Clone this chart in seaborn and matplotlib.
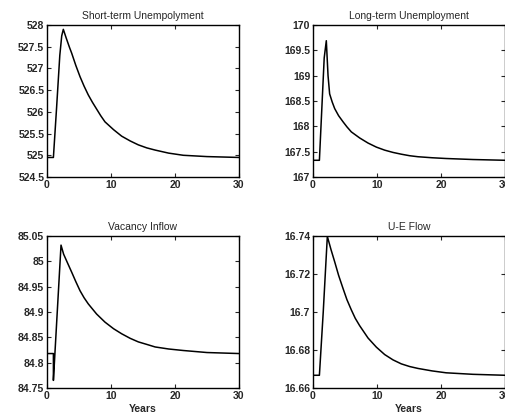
import numpy as np
import pandas as pd
import seaborn as sns
import matplotlib
matplotlib.use("Agg")
import matplotlib.pyplot as plt
from matplotlib.ticker import FixedLocator, FuncFormatter

# ---- data ----
st_years = [0, 1.0, 1.5, 2.0, 2.3, 2.55, 3.0, 3.5, 3.86, 4.5, 5.16, 5.8, 6.45, 7.1,
            7.77, 8.4, 9.06, 10.4, 11.67, 13.0, 14.27, 15.6, 16.9, 19.0, 21.3,
            25.0, 30.0]
st_values = [524.95, 524.95, 526.1, 527.3, 527.75, 527.90, 527.70, 527.49, 527.35,
             527.07, 526.81, 526.59, 526.39, 526.22, 526.06, 525.91, 525.77, 525.59,
             525.44, 525.33, 525.24, 525.17, 525.12, 525.05, 525.00, 524.97, 524.95]

lt_years = [0, 1.0, 1.75, 2.08, 2.35, 2.6, 3.0, 3.39, 4.0, 4.69, 5.3, 5.99, 7.3,
            8.6, 9.9, 11.2, 12.5, 13.8, 15.1, 16.4, 18.6, 20.8, 25.0, 30.0]
lt_values = [167.33, 167.33, 169.35, 169.69, 169.0, 168.64, 168.48, 168.35, 168.21,
             168.09, 167.99, 167.89, 167.77, 167.67, 167.59, 167.53, 167.485, 167.45,
             167.42, 167.40, 167.38, 167.365, 167.345, 167.33]

vi_years = [0, 1.0, 1.0, 2.19, 2.6, 3.2, 3.86, 4.5, 5.16, 5.8, 6.45, 7.75, 9.06,
            10.4, 11.67, 13.0, 14.27, 15.6, 16.9, 19.0, 21.3, 25.0, 30.0]
vi_values = [84.818, 84.818, 84.765, 85.032, 85.014, 84.997, 84.9785, 84.960, 84.942,
             84.928, 84.916, 84.896, 84.880, 84.867, 84.857, 84.848, 84.841, 84.836,
             84.831, 84.827, 84.824, 84.820, 84.818]

ue_years = [0, 1.0, 1.6, 2.0, 2.24, 2.8, 3.39, 4.0, 4.69, 5.3, 5.99, 6.6, 7.29,
            8.6, 9.9, 11.2, 12.5, 13.8, 15.1, 16.4, 18.6, 20.8, 25.0, 30.0]
ue_values = [16.6667, 16.6667, 16.700, 16.725, 16.7398, 16.7330, 16.7264, 16.7193,
             16.7124, 16.7065, 16.7011, 16.6967, 16.6928, 16.6863, 16.6815, 16.6776,
             16.6748, 16.6727, 16.6713, 16.6703, 16.6690, 16.6680, 16.6672, 16.6667]

titles = ["Short-term Unempolyment", "Long-term Unemployment", "Vacancy Inflow", "U-E Flow"]
x_ticks = [0, 10, 20, 30]
y_ticks = [
    [524.5, 525, 525.5, 526, 526.5, 527, 527.5, 528],
    [167, 167.5, 168, 168.5, 169, 169.5, 170],
    [84.75, 84.8, 84.85, 84.9, 84.95, 85, 85.05],
    [16.66, 16.68, 16.7, 16.72, 16.74],
]
x_label = "Years"

# ---- styling ----
sns.set_style("ticks")
plt.rcParams["font.family"] = ["Liberation Sans", "DejaVu Sans"]
plt.rcParams["xtick.direction"] = "in"
plt.rcParams["ytick.direction"] = "in"

W, H = 506, 417
fig = plt.figure(figsize=(W / 100, H / 100), dpi=100)

# axes boxes in pixels: left, top, right, bottom
boxes = [(47, 25, 239, 177), (313, 25, 505, 177), (47, 236, 239, 388), (313, 236, 505, 388)]
series = [(st_years, st_values), (lt_years, lt_values), (vi_years, vi_values), (ue_years, ue_values)]

for i, ((l, t, r, b), (xs, ys)) in enumerate(zip(boxes, series)):
    ax = fig.add_axes([l / W, 1 - b / H, (r - l) / W, (b - t) / H])
    df = pd.DataFrame({"x": xs, "y": ys})
    sns.lineplot(data=df, x="x", y="y", ax=ax, color="black", linewidth=1.1,
                 estimator=None, sort=False)
    ax.set_xlim(0, 30)
    ax.set_ylim(y_ticks[i][0], y_ticks[i][-1])
    ax.xaxis.set_major_locator(FixedLocator(x_ticks))
    ax.yaxis.set_major_locator(FixedLocator(y_ticks[i]))
    ax.yaxis.set_major_formatter(FuncFormatter(lambda v, p: "%g" % v))
    ax.xaxis.set_major_formatter(FuncFormatter(lambda v, p: "%g" % v))
    ax.tick_params(axis="both", which="both", top=True, right=True, length=3,
                   width=0.8, labelsize=7.5, pad=2)
    for lab in ax.get_xticklabels() + ax.get_yticklabels():
        lab.set_fontweight("bold")
    for s in ax.spines.values():
        s.set_visible(True)
        s.set_linewidth(1.0)
        s.set_color("black")
    ax.set_title(titles[i], fontsize=7.5, pad=4)
    ax.set_ylabel("")
    if i >= 2:
        ax.set_xlabel(x_label, fontsize=7.5, fontweight="bold", labelpad=2)
    else:
        ax.set_xlabel("")

fig.savefig("out.png", dpi=100)
